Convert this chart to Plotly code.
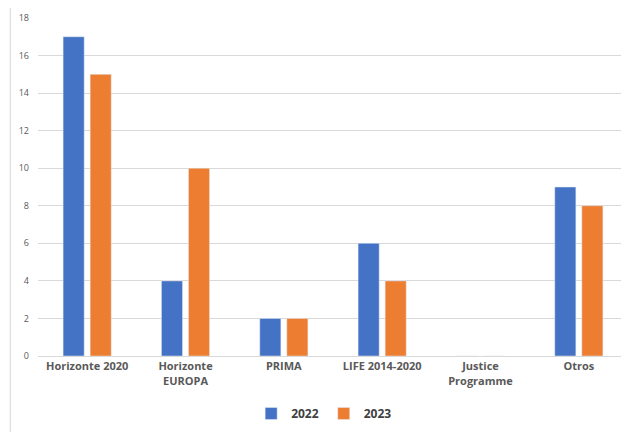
import plotly.graph_objects as go

categories = ["Horizonte 2020", "Horizonte<br>EUROPA", "PRIMA", "LIFE 2014-2020", "Justice<br>Programme", "Otros"]
values_2022 = [17, 4, 2, 6, 0, 9]
values_2023 = [15, 10, 2, 4, 0, 8]
y_ticks = [0, 2, 4, 6, 8, 10, 12, 14, 16, 18]

fig = go.Figure()
fig.add_trace(go.Bar(name="2022", x=categories, y=values_2022, marker_color="#4472C4"))
fig.add_trace(go.Bar(name="2023", x=categories, y=values_2023, marker_color="#ED7D31"))

fig.update_layout(
    width=621, height=424,
    margin=dict(l=30, r=1, t=10, b=76, autoexpand=False),
    paper_bgcolor="white", plot_bgcolor="white",
    barmode="group", bargap=0.45, bargroupgap=0.22,
    font=dict(family="Open Sans, Liberation Sans, sans-serif", color="#595959"),
    legend=dict(orientation="h", x=0.485, xanchor="center", y=-0.17, yanchor="middle",
                font=dict(size=12, color="#404040", family="Open Sans, sans-serif", weight="bold"),
                itemwidth=30, tracegroupgap=0),
    showlegend=True,
)
fig.update_xaxes(
    tickfont=dict(size=11, color="#595959", family="Open Sans, sans-serif", weight="bold"),
    showline=True, linecolor="#D9D9D9", linewidth=1, ticks="", showgrid=False,
)
fig.update_yaxes(
    range=[0, 18], tickvals=y_ticks,
    tickfont=dict(size=9, color="#595959"),
    showgrid=True, gridcolor="#D9D9D9", gridwidth=1, zeroline=False,
    showline=False, ticks="", ticklabelstandoff=8,
)
fig.add_shape(type="rect", xref="paper", yref="paper",
              x0=-0.047, x1=1.05, y0=-0.3, y1=1.0355,
              line=dict(color="#D9D9D9", width=1), fillcolor="rgba(0,0,0,0)", layer="below")

fig.write_html("out.html")
